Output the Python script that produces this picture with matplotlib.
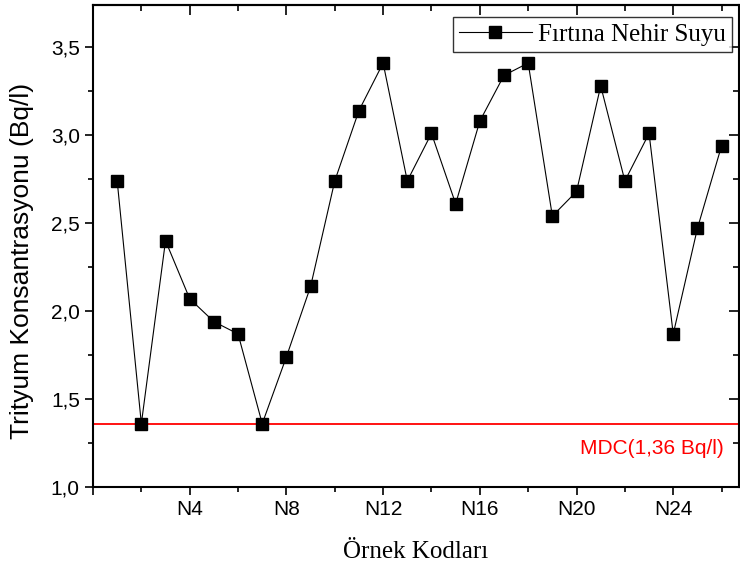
"""Tritium concentration in Firtina river water samples."""

import matplotlib.pyplot as plt
from matplotlib.ticker import FuncFormatter, MultipleLocator

sample_no = list(range(1, 27))
tritium_bq_l = [
    2.74, 1.36, 2.40, 2.07, 1.94, 1.87, 1.36, 1.74, 2.14, 2.74,
    3.14, 3.41, 2.74, 3.01, 2.61, 3.08, 3.34, 3.41, 2.54, 2.68,
    3.28, 2.74, 3.01, 1.87, 2.47, 2.94,
]
mdc_value = 1.36
series_label = "Fırtına Nehir Suyu"
mdc_label = "MDC(1,36 Bq/l)"

SANS = "Liberation Sans"
SERIF = "Liberation Serif"

fig = plt.figure(figsize=(7.40, 5.72), dpi=100)
ax = fig.add_axes([93 / 740, 85 / 572, 646 / 740, 482 / 572])

ax.plot(sample_no, tritium_bq_l, color="black", linewidth=0.8,
        marker="s", markersize=8.3, markerfacecolor="black",
        markeredgecolor="black", label=series_label, zorder=3)
ax.axhline(mdc_value, color="red", linewidth=1.3, zorder=2)
ax.text(26.1, 1.22, mdc_label, color="red", fontsize=15, family=SANS,
        ha="right", va="center")

ax.set_xlim(0, 26.72)
ax.set_ylim(1.0, 3.74)

ax.xaxis.set_major_locator(MultipleLocator(4))
ax.xaxis.set_minor_locator(MultipleLocator(2))
ax.xaxis.set_major_formatter(FuncFormatter(lambda v, p: f"N{int(v)}" if v > 0 else ""))
ax.yaxis.set_major_locator(MultipleLocator(0.5))
ax.yaxis.set_minor_locator(MultipleLocator(0.25))
ax.yaxis.set_major_formatter(FuncFormatter(lambda v, p: f"{v:.1f}".replace(".", ",")))

for side in ax.spines.values():
    side.set_linewidth(1.5)

ax.tick_params(which="both", direction="out", width=1.2, labelsize=15,
               top=False, right=False)
ax.tick_params(which="major", length=6)
ax.tick_params(which="minor", length=3.5)

# mirrored inward ticks on the top and right edges
top = ax.secondary_xaxis("top")
top.xaxis.set_major_locator(MultipleLocator(4))
top.xaxis.set_minor_locator(MultipleLocator(2))
top.tick_params(which="both", direction="in", width=1.2, labeltop=False)
top.tick_params(which="major", length=7)
top.tick_params(which="minor", length=4)
top.spines["top"].set_linewidth(1.5)

right = ax.secondary_yaxis("right")
right.yaxis.set_major_locator(MultipleLocator(0.5))
right.yaxis.set_minor_locator(MultipleLocator(0.25))
right.tick_params(which="both", direction="in", width=1.2, labelright=False)
right.tick_params(which="major", length=7)
right.tick_params(which="minor", length=4)

for lbl in ax.get_xticklabels() + ax.get_yticklabels():
    lbl.set_family(SANS)

ax.set_ylabel("Trityum Konsantrasyonu (Bq/l)", fontsize=19, family=SANS)
ax.yaxis.set_label_coords(-0.092, 0.468)
ax.set_xlabel("Örnek Kodları", fontsize=18, family=SERIF, labelpad=16)

leg = ax.legend(loc="upper right", bbox_to_anchor=(732 / 740, 1 - 17 / 572),
                bbox_transform=fig.transFigure, borderaxespad=0,
                prop={"family": SERIF, "size": 18}, frameon=True, fancybox=False,
                handlelength=2.9, handletextpad=0.25, borderpad=0.25)
leg.get_frame().set_edgecolor("black")
leg.get_frame().set_linewidth(1.0)

fig.savefig("out.png", dpi=100)
